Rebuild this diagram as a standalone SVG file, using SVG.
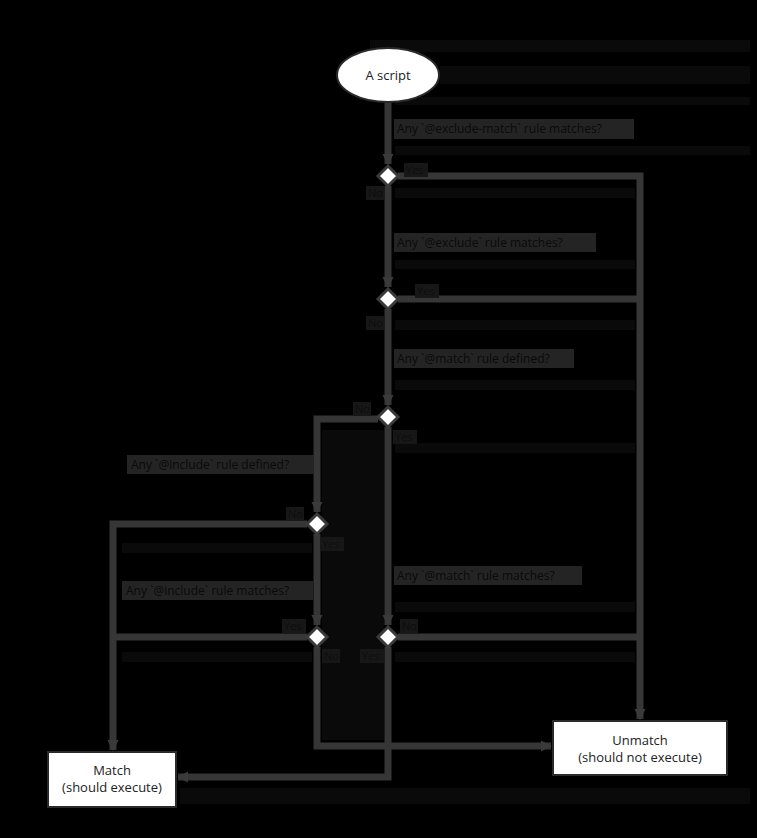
<svg xmlns="http://www.w3.org/2000/svg" width="757" height="838" viewBox="0 0 757 838">
<defs>
<marker id="arr" viewBox="0 0 10 10" refX="9" refY="5" markerWidth="1.6" markerHeight="1.6" orient="auto-start-reverse" markerUnits="strokeWidth">
<path d="M0,0 L10,5 L0,10 z" fill="#3a3a3a"/>
</marker>
</defs>
<style>
.bg{fill:#000}
.strip{fill:#0a0a0a}
.lbg{fill:#242424}
.edge{fill:none;stroke:#363636;stroke-width:7;stroke-linejoin:miter}
.lbl{font-family:"Open Sans","Noto Sans",sans-serif;font-size:12px;fill:#0a0a0a}
.yn{font-family:"Open Sans","Noto Sans",sans-serif;font-size:11px;fill:#0e0e0e}
.ynbg{fill:#171717}
.node{fill:#fff;stroke:#2a2a2a;stroke-width:2}
.dia{fill:#fff;stroke:#3a3a3a;stroke-width:3}
.ntxt{font-family:"Open Sans","Noto Sans",sans-serif;font-size:13px;fill:#222;text-anchor:middle}
</style>
<rect class="bg" x="0" y="0" width="757" height="838"/>
<g id="strips">
<rect class="strip" x="370" y="40" width="380" height="12"/>
<rect class="strip" x="440" y="66" width="310" height="18"/>
<rect class="strip" x="395" y="97" width="355" height="8"/>
<rect class="strip" x="395" y="146" width="355" height="9"/>
<rect class="strip" x="395" y="188" width="240" height="10"/>
<rect class="strip" x="395" y="260" width="240" height="9"/>
<rect class="strip" x="395" y="320" width="240" height="10"/>
<rect class="strip" x="395" y="380" width="240" height="10"/>
<rect class="strip" x="395" y="443" width="240" height="10"/>
<rect class="strip" x="322" y="430" width="62" height="310"/>
<rect class="strip" x="122" y="543" width="190" height="10"/>
<rect class="strip" x="395" y="602" width="240" height="10"/>
<rect class="strip" x="122" y="652" width="190" height="10"/>
<rect class="strip" x="395" y="652" width="240" height="10"/>
<rect class="strip" x="180" y="788" width="570" height="16"/>
</g>
<g id="connectors">
<path class="edge" d="M388,102 V164" marker-end="url(#arr)"/>
<path class="edge" d="M398,176 H640 V719" marker-end="url(#arr)"/>
<path class="edge" d="M388,186 V287" marker-end="url(#arr)"/>
<path class="edge" d="M398,299 H640"/>
<path class="edge" d="M388,309 V405" marker-end="url(#arr)"/>
<path class="edge" d="M378,419 H317 V512" marker-end="url(#arr)"/>
<path class="edge" d="M388,427 V625" marker-end="url(#arr)"/>
<path class="edge" d="M307,524 H113 V750" marker-end="url(#arr)"/>
<path class="edge" d="M317,534 V625" marker-end="url(#arr)"/>
<path class="edge" d="M307,637 H113"/>
<path class="edge" d="M317,647 V746 H551" marker-end="url(#arr)"/>
<path class="edge" d="M398,637 H640"/>
<path class="edge" d="M388,647 V777 H178" marker-end="url(#arr)"/>
</g>
<g id="edge-labels">
<rect class="lbg" x="394" y="119" width="240" height="20"/>
<text class="lbl" x="397" y="133">Any `@exclude-match` rule matches?</text>
<rect class="lbg" x="394" y="233" width="202" height="19"/>
<text class="lbl" x="397" y="247">Any `@exclude` rule matches?</text>
<rect class="lbg" x="394" y="349" width="180" height="19"/>
<text class="lbl" x="397" y="363">Any `@match` rule defined?</text>
<rect class="lbg" x="127" y="455" width="187" height="19"/>
<text class="lbl" x="131" y="469">Any `@include` rule defined?</text>
<rect class="lbg" x="122" y="581" width="191" height="19"/>
<text class="lbl" x="126" y="595">Any `@include` rule matches?</text>
<rect class="lbg" x="394" y="566" width="188" height="19"/>
<text class="lbl" x="397" y="580">Any `@match` rule matches?</text>
<rect class="ynbg" x="404" y="163" width="24" height="14"/>
<text class="yn" x="406" y="174">Yes</text>
<rect class="ynbg" x="366" y="186" width="18" height="14"/>
<text class="yn" x="368" y="197">No</text>
<rect class="ynbg" x="415" y="284" width="24" height="14"/>
<text class="yn" x="417" y="295">Yes</text>
<rect class="ynbg" x="366" y="316" width="18" height="14"/>
<text class="yn" x="368" y="327">No</text>
<rect class="ynbg" x="353" y="402" width="18" height="14"/>
<text class="yn" x="355" y="413">No</text>
<rect class="ynbg" x="393" y="430" width="24" height="14"/>
<text class="yn" x="395" y="441">Yes</text>
<rect class="ynbg" x="286" y="507" width="18" height="14"/>
<text class="yn" x="288" y="518">No</text>
<rect class="ynbg" x="320" y="537" width="24" height="14"/>
<text class="yn" x="322" y="548">Yes</text>
<rect class="ynbg" x="282" y="619" width="24" height="14"/>
<text class="yn" x="284" y="630">Yes</text>
<rect class="ynbg" x="322" y="649" width="18" height="14"/>
<text class="yn" x="324" y="660">No</text>
<rect class="ynbg" x="360" y="649" width="24" height="14"/>
<text class="yn" x="362" y="660">Yes</text>
<rect class="ynbg" x="400" y="619" width="18" height="14"/>
<text class="yn" x="402" y="630">No</text>
</g>
<g id="start">
<ellipse class="node" cx="388" cy="75" rx="51" ry="27"/>
<text class="ntxt" x="388" y="80">A script</text>
</g>
<g id="d1"><path class="dia" d="M388,166 L398,176 L388,186 L378,176 Z"/></g>
<g id="d2"><path class="dia" d="M388,289 L398,299 L388,309 L378,299 Z"/></g>
<g id="d3"><path class="dia" d="M388,407 L398,417 L388,427 L378,417 Z"/></g>
<g id="d4"><path class="dia" d="M317,514 L327,524 L317,534 L307,524 Z"/></g>
<g id="d5"><path class="dia" d="M317,627 L327,637 L317,647 L307,637 Z"/></g>
<g id="d6"><path class="dia" d="M388,627 L398,637 L388,647 L378,637 Z"/></g>
<g id="match">
<rect class="node" x="48" y="752" width="128" height="55"/>
<text class="ntxt" x="112" y="775">Match</text>
<text class="ntxt" x="112" y="792">(should execute)</text>
</g>
<g id="unmatch">
<rect class="node" x="553" y="721" width="174" height="54"/>
<text class="ntxt" x="640" y="745">Unmatch</text>
<text class="ntxt" x="640" y="762">(should not execute)</text>
</g>
</svg>
